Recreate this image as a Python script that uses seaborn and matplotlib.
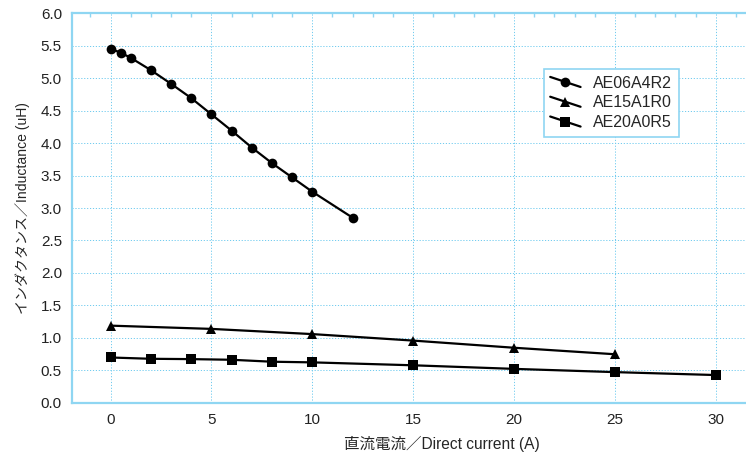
import numpy as np
import pandas as pd
import matplotlib
matplotlib.use("Agg")
import matplotlib.pyplot as plt
import seaborn as sns
from matplotlib.ticker import MultipleLocator
from matplotlib.legend_handler import HandlerLine2D

# data
x_06 = [0, 0.5, 1, 2, 3, 4, 5, 6, 7, 8, 9, 10, 12]
y_06 = [5.45, 5.39, 5.31, 5.12, 4.91, 4.69, 4.44, 4.19, 3.93, 3.69, 3.47, 3.25, 2.85]
x_15 = [0, 5, 10, 15, 20, 25]
y_15 = [1.19, 1.14, 1.06, 0.96, 0.85, 0.75]
x_20 = [0, 2, 4, 6, 8, 10, 15, 20, 25, 30]
y_20 = [0.70, 0.68, 0.675, 0.665, 0.635, 0.625, 0.58, 0.525, 0.475, 0.43]
names = ["AE06A4R2", "AE15A1R0", "AE20A0R5"]

df = pd.concat([
    pd.DataFrame({"x": x_06, "y": y_06, "part": names[0]}),
    pd.DataFrame({"x": x_15, "y": y_15, "part": names[1]}),
    pd.DataFrame({"x": x_20, "y": y_20, "part": names[2]}),
])

sns.set_style("white")
plt.rcParams["font.family"] = ["Liberation Sans", "Noto Sans CJK JP", "DejaVu Sans"]

blue = "#8fd6f2"
grid_blue = "#6fcbef"

fig = plt.figure(figsize=(7.46, 4.58), dpi=100)
ax = fig.add_axes([0.0961, 0.1201, 0.9039, 0.8515])

sns.lineplot(data=df, x="x", y="y", hue="part", style="part",
             palette=["black"] * 3, markers={names[0]: "o", names[1]: "^", names[2]: "s"},
             dashes=False, linewidth=1.6, markersize=7, markeredgewidth=0,
             sort=False, ax=ax, legend=False)

ax.set_xlim(-1.93, 31.5)
ax.set_ylim(0, 6.0)
ax.xaxis.set_major_locator(MultipleLocator(5))
ax.xaxis.set_minor_locator(MultipleLocator(1))
ax.yaxis.set_major_locator(MultipleLocator(0.5))
ax.yaxis.set_minor_locator(MultipleLocator(0.1))
ax.yaxis.set_major_formatter(matplotlib.ticker.FormatStrFormatter("%.1f"))

ax.grid(True, which="major", color=grid_blue, linestyle=(0, (1.2, 1.8)), linewidth=0.7)
ax.set_axisbelow(True)
for s in ["left", "bottom", "top"]:
    ax.spines[s].set_color(blue)
    ax.spines[s].set_linewidth(1.6)
ax.spines["right"].set_visible(False)

ax.tick_params(which="major", length=0, labelsize=11, labelcolor="#222222", pad=7)
ax.tick_params(which="minor", direction="in", length=3, color=blue, width=1, top=True)

ax.set_xlabel("直流電流／Direct current (A)", fontsize=11.2)
ax.xaxis.set_label_coords(0.549, -0.085)
ax.set_ylabel("インダクタンス／Inductance (uH)", fontsize=10.1)
ax.yaxis.set_label_coords(-0.062, 0.5)


class SlantHandler(HandlerLine2D):
    def create_artists(self, legend, orig_handle, xdescent, ydescent, width, height, fontsize, trans):
        lines = super().create_artists(legend, orig_handle, xdescent, ydescent, width, height, fontsize, trans)
        for ln in lines:
            xd = ln.get_xdata()
            yc = (height - ydescent) / 2
            ln.set_ydata(np.linspace(yc + height * 0.45, yc - height * 0.45, len(xd)))
        return lines


handles = [
    plt.Line2D([], [], color="black", marker="o", lw=1.6, markersize=7, markeredgewidth=0),
    plt.Line2D([], [], color="black", marker="^", lw=1.6, markersize=7, markeredgewidth=0),
    plt.Line2D([], [], color="black", marker="s", lw=1.6, markersize=7, markeredgewidth=0),
]
leg = fig.legend(handles, names, loc="upper left", bbox_to_anchor=(0.729, 0.849),
                 bbox_transform=fig.transFigure, borderaxespad=0, fontsize=11.5,
                 numpoints=1, handlelength=1.9, handletextpad=0.8, labelspacing=0.3,
                 fancybox=False, framealpha=1, borderpad=0.4,
                 handler_map={plt.Line2D: SlantHandler()})
leg.get_frame().set_edgecolor(blue)
leg.get_frame().set_linewidth(1.2)

fig.savefig("out.png", dpi=100)
